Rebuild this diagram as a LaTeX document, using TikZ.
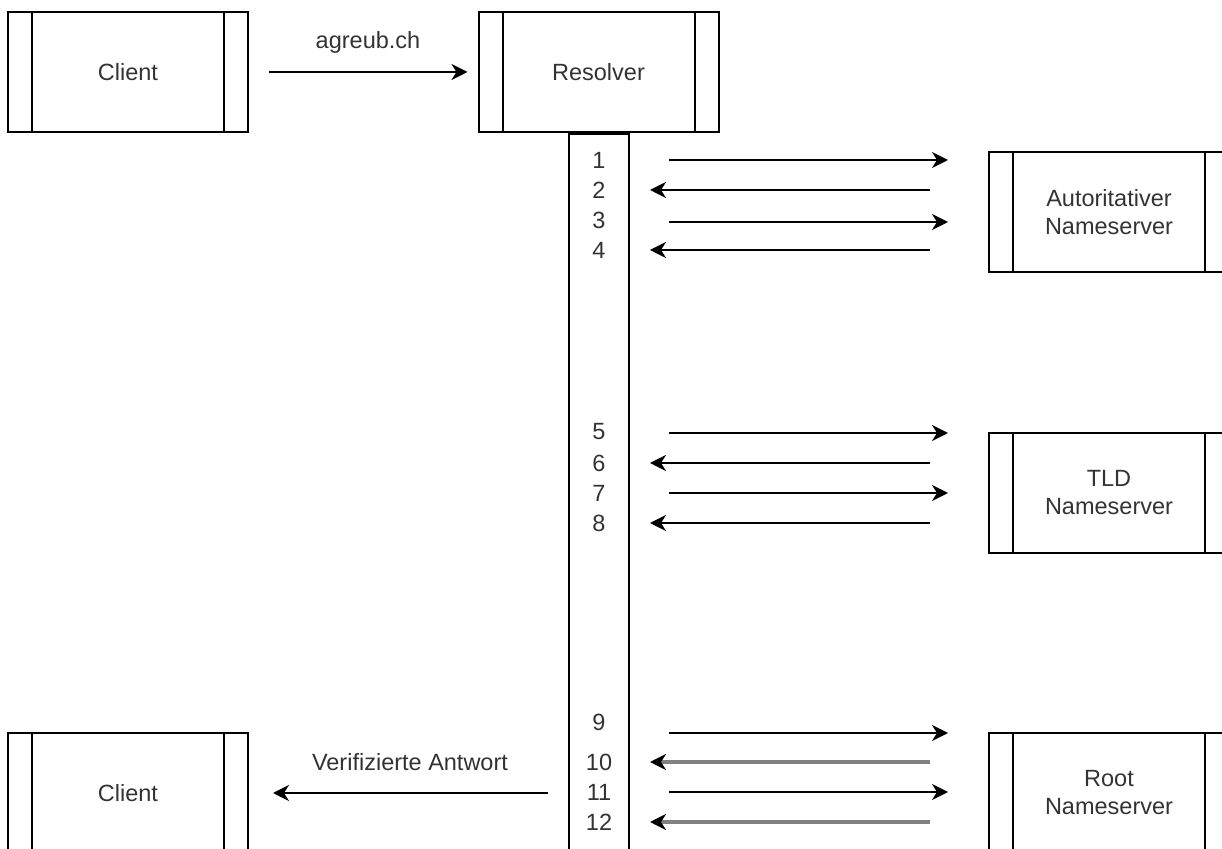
\documentclass[tikz,border=0pt]{standalone}
\usepackage{fontspec}
\setmainfont{Liberation Sans}
\usetikzlibrary{arrows.meta}

\tikzset{
    txt/.style={text=black!80, font=\fontsize{11.75}{14}\selectfont},
    proc/.style={draw, line width=1pt, txt, minimum width=120pt, minimum height=60pt,
        inner sep=0pt, align=center,
        path picture={
            \draw[line width=1pt] ([xshift=12pt]path picture bounding box.north west) -- ([xshift=12pt]path picture bounding box.south west);
            \draw[line width=1pt] ([xshift=-12pt]path picture bounding box.north east) -- ([xshift=-12pt]path picture bounding box.south east);
        }},
    bar/.style={draw, line width=1pt, minimum width=30pt, minimum height=364pt, inner sep=0pt},
    num/.style={txt, inner sep=0pt},
    msg/.style={-{Stealth[length=8pt, width=8pt, inset=2.5pt]}, line width=1pt},
    reply/.style={-{Stealth[length=8pt, width=8pt, inset=2.5pt, color=black]}, line width=1.6pt, draw=black!50}
}

\begin{document}
\begin{tikzpicture}[x=0.5pt, y=-0.5pt]
    \clip (0,0) rectangle (1222,849);

    % Boxes
    \node[proc] (client) at (128,72) {Client};
    \node[proc] (resolver) at (598.5,72) {Resolver};
    \node[bar, anchor=north] (bar) at (resolver.south) {};
    \node[proc] (auth) at (1109,212) {Autoritativer\\Nameserver};
    \node[proc] (tld) at (1109,493) {TLD\\Nameserver};
    \node[proc] (root) at (1109,793) {Root\\Nameserver};
    \node[proc] (client2) at (128,793) {Client};

    % Client <-> Resolver
    \node[txt] (query) at (368,42) {agreub.ch};
    \draw[msg, shorten <=10pt, shorten >=5pt] (client) -- (resolver);
    \node[txt] (answer) at (410,762) {Verifizierte Antwort};
    \draw[msg, shorten <=10pt, shorten >=12pt] (bar.west |- client2.east) -- (client2.east);

    % Step numbers
    \foreach \n/\y in {1/160,2/190,3/220,4/250,5/432,6/463,7/493,8/523,9/722,10/762,11/792,12/822}
        \node[num] (n\n) at (599,\y) {\n};

    % Requests
    \foreach \n/\y in {1/160,3/222,5/433,7/493,9/733,11/792} {
        \coordinate (s\n) at (669,\y);
        \coordinate (e\n) at (948,\y);
        \draw[msg] (s\n) -- (e\n);
    }

    % Replies
    \foreach \n/\y/\st in {2/190/msg,4/250/msg,6/463/msg,8/523/msg,10/762/reply,12/822/reply} {
        \coordinate (s\n) at (930,\y);
        \coordinate (e\n) at (650,\y);
        \draw[\st] (s\n) -- (e\n);
    }
\end{tikzpicture}
\end{document}
